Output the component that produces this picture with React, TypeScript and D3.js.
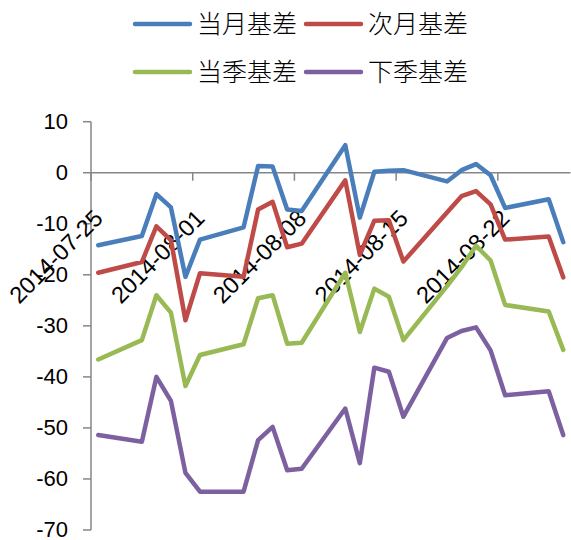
import * as d3 from 'd3'
import React from 'react'

const dates = ['2014-07-25', '2014-07-28', '2014-07-29', '2014-07-30', '2014-07-31', '2014-08-01',
    '2014-08-04', '2014-08-05', '2014-08-06', '2014-08-07', '2014-08-08',
    '2014-08-11', '2014-08-12', '2014-08-13', '2014-08-14', '2014-08-15',
    '2014-08-18', '2014-08-19', '2014-08-20', '2014-08-21', '2014-08-22',
    '2014-08-25', '2014-08-26'];
const curMonth = [-14.2, -12.4, -4.2, -6.8, -20.4, -13.1, -10.7, 1.3, 1.2, -7.2, -7.5, 5.4, -8.8, 0.2, 0.4, 0.5, -1.7, 0.5, 1.7, -0.5, -6.9, -5.2, -13.6];
const nextMonth = [-19.6, -17.5, -10.5, -13.2, -28.9, -19.7, -20.4, -7.2, -5.7, -14.6, -13.9, -1.5, -16.1, -9.4, -9.3, -17.4, -7.8, -4.6, -3.6, -6.2, -13.1, -12.5, -20.5];
const curQuarter = [-36.6, -32.8, -24.0, -27.4, -41.8, -35.7, -33.6, -24.6, -24.0, -33.5, -33.3, -19.6, -31.2, -22.7, -24.3, -32.8, -22.2, -18.5, -14.3, -17.2, -25.9, -27.2, -34.7];
const nextQuarter = [-51.4, -52.7, -40.0, -44.7, -58.8, -62.5, -62.5, -52.4, -49.8, -58.3, -58.0, -46.2, -56.9, -38.2, -39.0, -47.8, -32.4, -31.0, -30.3, -34.8, -43.6, -42.8, -51.4];
const seriesNames = ['当月基差', '次月基差', '当季基差', '下季基差'];
const colors = ['#4A7EBB', '#BE4B48', '#98B954', '#7D60A0'];
const xTickLabels = ['2014-07-25', '2014-08-01', '2014-08-08', '2014-08-15', '2014-08-22'];
const yTicks = [10, 0, -10, -20, -30, -40, -50, -60, -70];

const W = 571, H = 540;
const axisColor = '#868686';
const numFont = '"Liberation Sans", Arial, sans-serif';

const App = () => {
    const parse = d3.utcParse('%Y-%m-%d');
    const day = 24 * 3600 * 1000;
    const xScale = d3.scaleUtc()
        .domain([parse('2014-07-25')!, parse('2014-08-27')!])
        .range([91, 570.5]);
    const yScale = d3.scaleLinear().domain([-70, 10]).range([530, 121.7]);
    const xPos = (s: string) => xScale(new Date(parse(s)!.getTime() + day / 2));

    const all = [curMonth, nextMonth, curQuarter, nextQuarter];
    const line = d3.line<number>()
        .x((_, i) => xPos(dates[i]))
        .y(d => yScale(d));

    const legendItems = seriesNames.map((name, i) => ({
        name,
        color: colors[i],
        x: i % 2 === 0 ? 135 : 306,
        y: i < 2 ? 24 : 72
    }));

    return (
        <svg width={W} height={H} style={{ position: 'absolute', left: 0, top: 0, background: '#fff' }}>
            {/* y axis */}
            <line x1={91} x2={91} y1={yScale(10)} y2={yScale(-70)} stroke={axisColor} strokeWidth={1.5} />
            {yTicks.map(t => (
                <g key={t} transform={`translate(0,${yScale(t)})`}>
                    <line x1={83} x2={91} y1={0} y2={0} stroke={axisColor} strokeWidth={1.5} />
                    <text x={68} dy='0.34em' textAnchor='end' fontFamily={numFont} fontSize={22} fill='#000'>{t}</text>
                </g>
            ))}
            {/* x axis at zero */}
            <line x1={91} x2={570.5} y1={yScale(0)} y2={yScale(0)} stroke={axisColor} strokeWidth={1.5} />
            {xTickLabels.map(s => (
                <line key={s} x1={xScale(parse(s)!)} x2={xScale(parse(s)!)} y1={yScale(0)} y2={yScale(0) + 8} stroke={axisColor} strokeWidth={1.5} />
            ))}
            {xTickLabels.map(s => (
                <text key={s} transform={`translate(${xPos(s) + 6},${yScale(0) + 47}) rotate(-45)`}
                    textAnchor='end' fontFamily={numFont} fontSize={23.5} fill='#000'>{s}</text>
            ))}
            {/* series */}
            {all.map((vals, i) => (
                <path key={i} d={line(vals) ?? ''} fill='none' stroke={colors[i]} strokeWidth={4.5}
                    strokeLinejoin='round' strokeLinecap='round' />
            ))}
            {/* legend */}
            {legendItems.map(l => (
                <g key={l.name}>
                    <line x1={l.x} x2={l.x + 55} y1={l.y} y2={l.y} stroke={l.color} strokeWidth={4.5} strokeLinecap='round' />
                    <text x={l.x + 62} y={l.y} dy='0.36em' fontFamily='"Noto Sans CJK SC", sans-serif' fontSize={25} fontWeight={300} fill='#000'>{l.name}</text>
                </g>
            ))}
        </svg>
    );
};
export default App;
